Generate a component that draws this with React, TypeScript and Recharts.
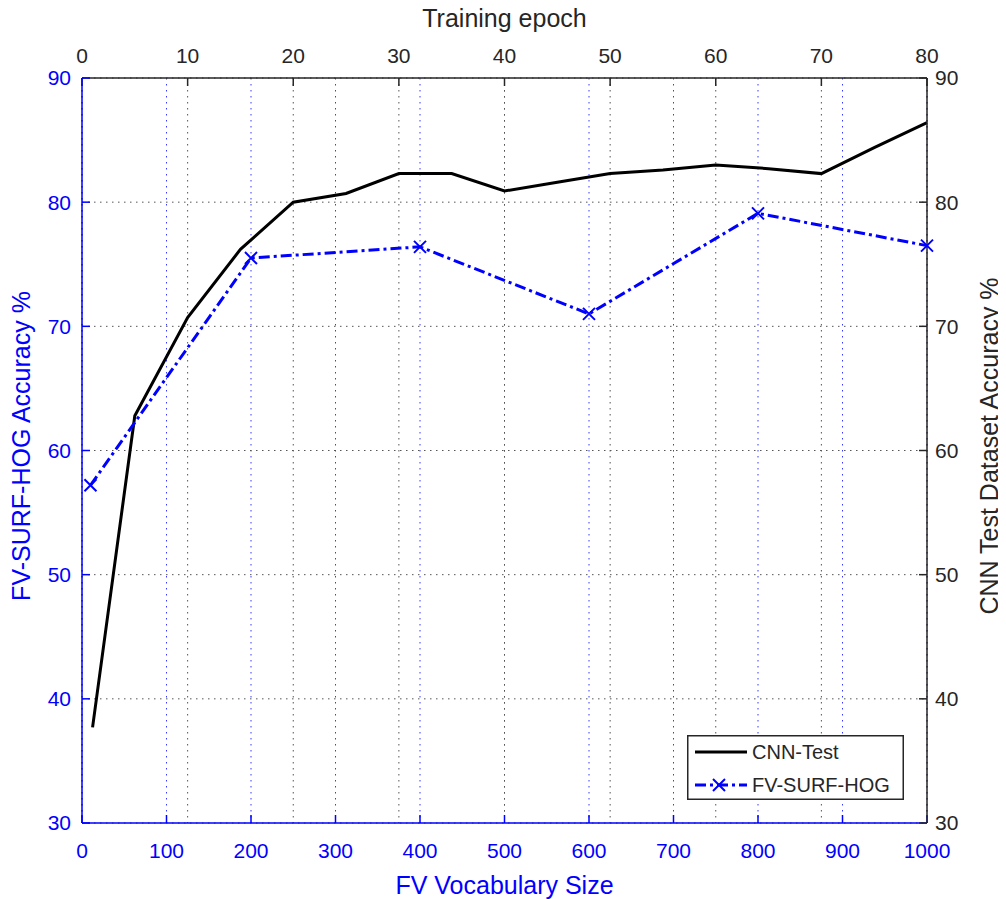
import { LineChart, Line, XAxis, YAxis, CartesianGrid, Legend } from "recharts"

// CNN test accuracy per training epoch (top / right axes)
const epochs = [1, 5, 10, 15, 20, 25, 30, 35, 40, 45, 50, 55, 60, 65, 70, 75, 80]
const cnnAccuracy = [37.7, 62.8, 70.7, 76.2, 80.0, 80.7, 82.3, 82.3, 80.9, 81.6, 82.3, 82.6, 83.0, 82.7, 82.3, 84.4, 86.4]

// FV-SURF-HOG accuracy per vocabulary size (bottom / left axes)
const vocabSizes = [10, 200, 400, 600, 800, 1000]
const fvAccuracy = [57.2, 75.5, 76.4, 71.0, 79.1, 76.5]

const epochTicks = [0, 10, 20, 30, 40, 50, 60, 70, 80]
const vocabTicks = [0, 100, 200, 300, 400, 500, 600, 700, 800, 900, 1000]
const accuracyTicks = [30, 40, 50, 60, 70, 80, 90]

const CNN_NAME = "CNN-Test"
const FV_NAME = "FV-SURF-HOG"

const cnnData = epochs.map((epoch, i) => ({ epoch, cnn: cnnAccuracy[i] }))
const fvData = vocabSizes.map((vocab, i) => ({ vocab, fv: fvAccuracy[i] }))

const FONT = "'Liberation Sans', Arial, Helvetica, sans-serif"
const BLUE = "#0000ff"
const DARK = "#262626"
const GRID_DARK = "#555555"
const GRID_BLUE = "#3a3aff"
const DOTS = "1.5 4.5"
const DASH_DOT = "11 4 3 4"

function Cross({ cx, cy, size = 6 }: { cx?: number; cy?: number; size?: number }) {
  if (cx == null || cy == null) return null
  const r = size
  return (
    <path
      d={`M${cx - r},${cy - r}L${cx + r},${cy + r}M${cx - r},${cy + r}L${cx + r},${cy - r}`}
      stroke={BLUE}
      strokeWidth={2}
      fill="none"
    />
  )
}

function AxisTitle(props: any) {
  const { viewBox, text, color, shiftX = 0, shiftY = 0, rotate = 0 } = props
  if (!viewBox) return null
  const cx = viewBox.x + viewBox.width / 2 + shiftX
  const cy = viewBox.y + viewBox.height / 2 + shiftY
  return (
    <text
      x={cx}
      y={cy}
      textAnchor="middle"
      dominantBaseline="central"
      transform={rotate ? `rotate(${rotate}, ${cx}, ${cy})` : undefined}
      fill={color}
      fontSize={25}
      fontFamily={FONT}
    >
      {text}
    </text>
  )
}

function LegendBox() {
  return (
    <svg width={217} height={65} style={{ display: "block" }}>
      <rect x={0.75} y={0.75} width={215.5} height={63.5} fill="#fff" stroke={DARK} strokeWidth={1.5} />
      <line x1={8} x2={60} y1={17} y2={17} stroke="#000" strokeWidth={3} />
      <text x={65} y={17} dominantBaseline="central" fontSize={20} fontFamily={FONT} fill={DARK}>
        {CNN_NAME}
      </text>
      <line x1={8} x2={60} y1={50} y2={50} stroke={BLUE} strokeWidth={3} strokeDasharray={DASH_DOT} />
      <Cross cx={32} cy={50} />
      <text x={65} y={50} dominantBaseline="central" fontSize={20} fontFamily={FONT} fill={DARK}>
        {FV_NAME}
      </text>
    </svg>
  )
}

const tickStyle = (fill: string) => ({ fill, fontSize: 21, fontFamily: FONT })

export default function App() {
  return (
    <LineChart
      width={998}
      height={899}
      margin={{ top: 8, right: 8, bottom: 6, left: 0 }}
      style={{ marginTop: -8 }}
    >
      <CartesianGrid xAxisId="vocab" yAxisId="left" horizontal={false} stroke={GRID_BLUE} strokeDasharray={DOTS} />
      <CartesianGrid xAxisId="epoch" yAxisId="left" horizontal={false} stroke={GRID_DARK} strokeDasharray={DOTS} />
      <CartesianGrid xAxisId="vocab" yAxisId="left" vertical={false} stroke={GRID_DARK} strokeDasharray={DOTS} />

      <XAxis
        xAxisId="vocab"
        dataKey="vocab"
        type="number"
        orientation="bottom"
        domain={[0, 1000]}
        ticks={vocabTicks}
        interval={0}
        height={70}
        tickSize={-8}
        tickMargin={28}
        stroke={BLUE}
        axisLine={{ stroke: BLUE, strokeWidth: 1.5 }}
        tickLine={{ stroke: BLUE, strokeWidth: 1.5 }}
        tick={tickStyle(BLUE)}
        label={<AxisTitle text="FV Vocabulary Size" color={BLUE} shiftY={27} />}
      />
      <XAxis
        xAxisId="epoch"
        dataKey="epoch"
        type="number"
        orientation="top"
        domain={[0, 80]}
        ticks={epochTicks}
        interval={0}
        height={70}
        tickSize={-8}
        tickMargin={23}
        stroke={DARK}
        axisLine={{ stroke: DARK, strokeWidth: 1.5 }}
        tickLine={{ stroke: DARK, strokeWidth: 1.5 }}
        tick={tickStyle(DARK)}
        label={<AxisTitle text="Training epoch" color={DARK} shiftY={-25} />}
      />
      <YAxis
        yAxisId="left"
        orientation="left"
        domain={[30, 90]}
        ticks={accuracyTicks}
        interval={0}
        width={74}
        tickSize={-8}
        tickMargin={19}
        stroke={BLUE}
        axisLine={{ stroke: BLUE, strokeWidth: 1.5 }}
        tickLine={{ stroke: BLUE, strokeWidth: 1.5 }}
        tick={tickStyle(BLUE)}
        label={<AxisTitle text="FV-SURF-HOG Accuracy %" color={BLUE} shiftX={-24} shiftY={-4.5} rotate={-90} />}
      />
      <YAxis
        yAxisId="right"
        orientation="right"
        domain={[30, 90]}
        ticks={accuracyTicks}
        interval={0}
        width={71}
        tickSize={-8}
        tickMargin={16}
        stroke={DARK}
        axisLine={{ stroke: DARK, strokeWidth: 1.5 }}
        tickLine={{ stroke: DARK, strokeWidth: 1.5 }}
        tick={tickStyle(DARK)}
        label={<AxisTitle text="CNN Test Dataset Accuracy %" color={DARK} shiftX={26.5} shiftY={-4.5} rotate={-90} />}
      />

      <Line
        data={cnnData}
        xAxisId="epoch"
        yAxisId="right"
        dataKey="cnn"
        name={CNN_NAME}
        type="linear"
        stroke="#000"
        strokeWidth={3}
        dot={false}
        activeDot={false}
        isAnimationActive={false}
      />
      <Line
        data={fvData}
        xAxisId="vocab"
        yAxisId="left"
        dataKey="fv"
        name={FV_NAME}
        type="linear"
        stroke={BLUE}
        strokeWidth={3}
        strokeDasharray={DASH_DOT}
        dot={(p: any) => <Cross key={`fv-${p.index}`} cx={p.cx} cy={p.cy} />}
        activeDot={false}
        isAnimationActive={false}
      />

      <Legend
        layout="horizontal"
        verticalAlign="middle"
        align="center"
        content={() => <LegendBox />}
        wrapperStyle={{ left: 679, top: 735, width: 217, height: 65 }}
      />
    </LineChart>
  )
}
